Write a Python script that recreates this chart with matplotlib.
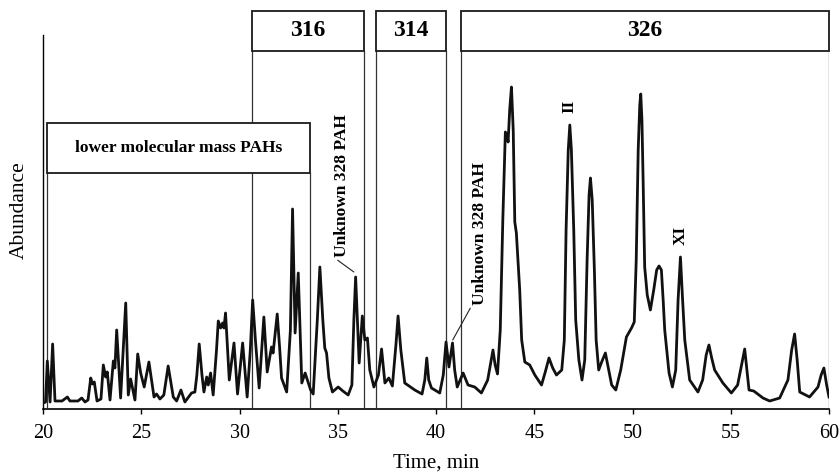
import matplotlib
matplotlib.use("Agg")
import matplotlib.pyplot as plt
from matplotlib.patches import Rectangle

# ── Chromatogram trace (retention time, detector abundance) ──────
time_min = [
    20.02, 20.13, 20.22, 20.36, 20.49, 20.61, 20.97, 21.24, 21.37, 21.78,
    21.97, 22.14, 22.29, 22.43, 22.52, 22.61, 22.75, 22.95, 23.07, 23.19,
    23.27, 23.41, 23.58, 23.66, 23.75, 23.95, 24.21, 24.34, 24.46, 24.68,
    24.82, 24.97, 25.15, 25.39, 25.65, 25.78, 25.95, 26.15, 26.37, 26.63,
    26.80, 27.02, 27.22, 27.56, 27.73, 27.83, 27.95, 28.09, 28.19, 28.33,
    28.41, 28.53, 28.66, 28.83, 28.92, 29.04, 29.14, 29.21, 29.29, 29.48,
    29.72, 29.90, 30.16, 30.39, 30.55, 30.67, 30.81, 31.00, 31.24, 31.41,
    31.63, 31.71, 31.92, 32.05, 32.14, 32.40, 32.59, 32.70, 32.83, 32.99,
    33.17, 33.34, 33.62, 33.75, 33.96, 34.09, 34.24, 34.34, 34.43, 34.55,
    34.73, 35.02, 35.26, 35.53, 35.72, 35.82, 35.91, 36.00, 36.09, 36.25,
    36.38, 36.51, 36.63, 36.84, 37.07, 37.23, 37.40, 37.60, 37.78, 37.96,
    38.07, 38.21, 38.41, 38.92, 39.29, 39.43, 39.53, 39.63, 39.77, 40.19,
    40.37, 40.51, 40.66, 40.84, 40.95, 41.08, 41.38, 41.63, 41.97, 42.31,
    42.63, 42.90, 43.01, 43.13, 43.27, 43.40, 43.53, 43.60, 43.67, 43.75,
    43.84, 43.93, 44.01, 44.09, 44.26, 44.36, 44.52, 44.77, 45.03, 45.37,
    45.56, 45.75, 45.94, 46.13, 46.40, 46.53, 46.62, 46.73, 46.81, 46.89,
    47.01, 47.11, 47.27, 47.43, 47.57, 47.69, 47.79, 47.86, 47.95, 48.06,
    48.15, 48.28, 48.43, 48.62, 48.79, 48.94, 49.15, 49.40, 49.69, 49.95,
    50.09, 50.19, 50.29, 50.37, 50.42, 50.48, 50.54, 50.62, 50.75, 50.91,
    51.08, 51.23, 51.35, 51.47, 51.56, 51.64, 51.86, 52.03, 52.20, 52.32,
    52.44, 52.55, 52.66, 52.91, 53.33, 53.57, 53.75, 53.89, 54.03, 54.18,
    54.60, 55.03, 55.35, 55.55, 55.71, 55.81, 55.93, 56.17, 56.64, 56.98,
    57.49, 57.91, 58.10, 58.25, 58.38, 58.51, 59.01, 59.44, 59.60, 59.74,
    59.88, 60.00,
]
abundance = [
    6, 7, 48, 7, 65, 8, 8, 12, 8, 8,
    11, 7, 9, 31, 25, 27, 8, 10, 44, 32,
    37, 9, 48, 41, 79, 11, 106, 14, 30, 9,
    55, 36, 22, 47, 12, 15, 10, 14, 43, 12,
    8, 19, 7, 16, 17, 34, 65, 34, 17, 32,
    24, 36, 14, 59, 88, 81, 86, 81, 96, 29,
    66, 15, 66, 12, 59, 109, 69, 21, 92, 37,
    62, 56, 95, 59, 31, 17, 79, 200, 76, 136,
    26, 36, 19, 15, 89, 142, 89, 61, 56, 31,
    17, 22, 18, 14, 24, 89, 132, 89, 46, 93,
    69, 71, 39, 22, 34, 60, 26, 31, 23, 64,
    93, 59, 26, 19, 15, 29, 51, 29, 21, 16,
    34, 67, 42, 66, 39, 22, 36, 24, 22, 16,
    29, 59, 44, 35, 79, 189, 277, 275, 267, 299,
    322, 279, 187, 176, 119, 69, 47, 44, 34, 24,
    37, 51, 41, 34, 39, 69, 179, 259, 284, 259,
    179, 89, 49, 29, 49, 149, 214, 231, 209, 139,
    69, 39, 47, 56, 39, 24, 19, 39, 72, 81,
    87, 149, 259, 304, 315, 289, 229, 142, 114, 99,
    119, 139, 143, 139, 109, 79, 36, 22, 39, 109,
    152, 109, 69, 29, 17, 29, 54, 64, 51, 39,
    26, 16, 24, 44, 60, 41, 19, 18, 11, 8,
    11, 29, 59, 75, 49, 17, 12, 22, 34, 41,
    24, 12,
]

# ── Mass windows: label, start, end (min) ───────────────────────
window_labels = ["316", "314", "326"]
window_start = [30.63, 36.94, 41.25]
window_end = [36.33, 40.50, 60.00]

low_label = "lower molecular mass PAHs"
low_start, low_end = 20.20, 33.58

# ── Peak annotations ────────────────────────────────────────────
peak_names = ["II", "XI"]
peak_times = [46.81, 52.44]
peak_heights = [284, 152]

unknown_times = [35.91, 40.84]
unknown_heights = [132, 66]

SERIF = ["Liberation Serif", "DejaVu Serif"]
LINE = "#1a1a1a"

fig = plt.figure(figsize=(8.39, 4.73), dpi=100)
ax = fig.add_axes([43 / 839, 64 / 473, 786 / 839, 398 / 473])
ax.set_xlim(20, 60)
ax.set_ylim(0, 398)

for s in ("top", "right"):
    ax.spines[s].set_visible(False)
ax.spines["left"].set_bounds(0, 374)
ax.spines["left"].set_linewidth(1.0)
ax.spines["bottom"].set_linewidth(1.2)
ax.set_yticks([])
ax.set_xticks(range(20, 61, 5))
ax.tick_params(axis="x", direction="out", length=3.5, width=1, pad=7,
               labelsize=14.5)
for lab in ax.get_xticklabels():
    lab.set_family(SERIF)

# mass windows: header box plus boundary lines down to the baseline
box_top, box_bot = 398, 358
for name, x0, x1 in zip(window_labels, window_start, window_end):
    ax.add_patch(Rectangle((x0, box_bot), x1 - x0, box_top - box_bot,
                           facecolor="white", edgecolor=LINE, lw=1.3,
                           zorder=4, clip_on=False))
    for x in (x0, x1):
        ax.plot([x, x], [2, box_bot], color="#333333", lw=0.9, zorder=2)
    ax.text((x0 + x1) / 2, (box_top + box_bot) / 2, name, ha="center",
            va="center", fontsize=17, fontweight="bold", family=SERIF,
            zorder=5)

low_top, low_bot = 286, 236
ax.add_patch(Rectangle((low_start, low_bot), low_end - low_start,
                       low_top - low_bot, facecolor="white", edgecolor=LINE,
                       lw=1.3, zorder=4))
for x in (low_start, low_end):
    ax.plot([x, x], [2, low_bot], color="#333333", lw=0.9, zorder=2)
ax.text((low_start + low_end) / 2, (low_top + low_bot) / 2, low_label,
        ha="center", va="center", fontsize=12.5, fontweight="bold",
        family=SERIF, zorder=5)

# the trace itself
ax.plot(time_min, abundance, color="#111111", lw=2.0, zorder=3,
        solid_joinstyle="round")

# labelled peaks
for name, t, h in zip(peak_names, peak_times, peak_heights):
    ax.text(t, h + 12, name, rotation=90, ha="center", va="bottom",
            fontsize=12.5, fontweight="bold", family=SERIF, zorder=5)

# unknown 328 PAH with leader lines
ax.annotate("Unknown 328 PAH", xy=(unknown_times[0] - 0.09, unknown_heights[0] + 5),
            xytext=(35.21, 223), rotation=90, ha="center", va="center",
            fontsize=12.5, fontweight="bold", family=SERIF, zorder=5,
            arrowprops=dict(arrowstyle="-", color="#222222", lw=0.8,
                            shrinkA=0, shrinkB=0, relpos=(0.0, 0.0)))
ax.annotate("Unknown 328 PAH", xy=(unknown_times[1] + 0.01, unknown_heights[1] + 3),
            xytext=(42.23, 175), rotation=90, ha="center", va="center",
            fontsize=12.5, fontweight="bold", family=SERIF, zorder=5,
            arrowprops=dict(arrowstyle="-", color="#222222", lw=0.8,
                            shrinkA=0, shrinkB=0, relpos=(0.0, 0.0)))

ax.set_xlabel("Time, min", fontsize=15, family=SERIF, labelpad=8)
ax.set_ylabel("Abundance", fontsize=15.5, family=SERIF, labelpad=10)

fig.savefig("out.png", dpi=100)
